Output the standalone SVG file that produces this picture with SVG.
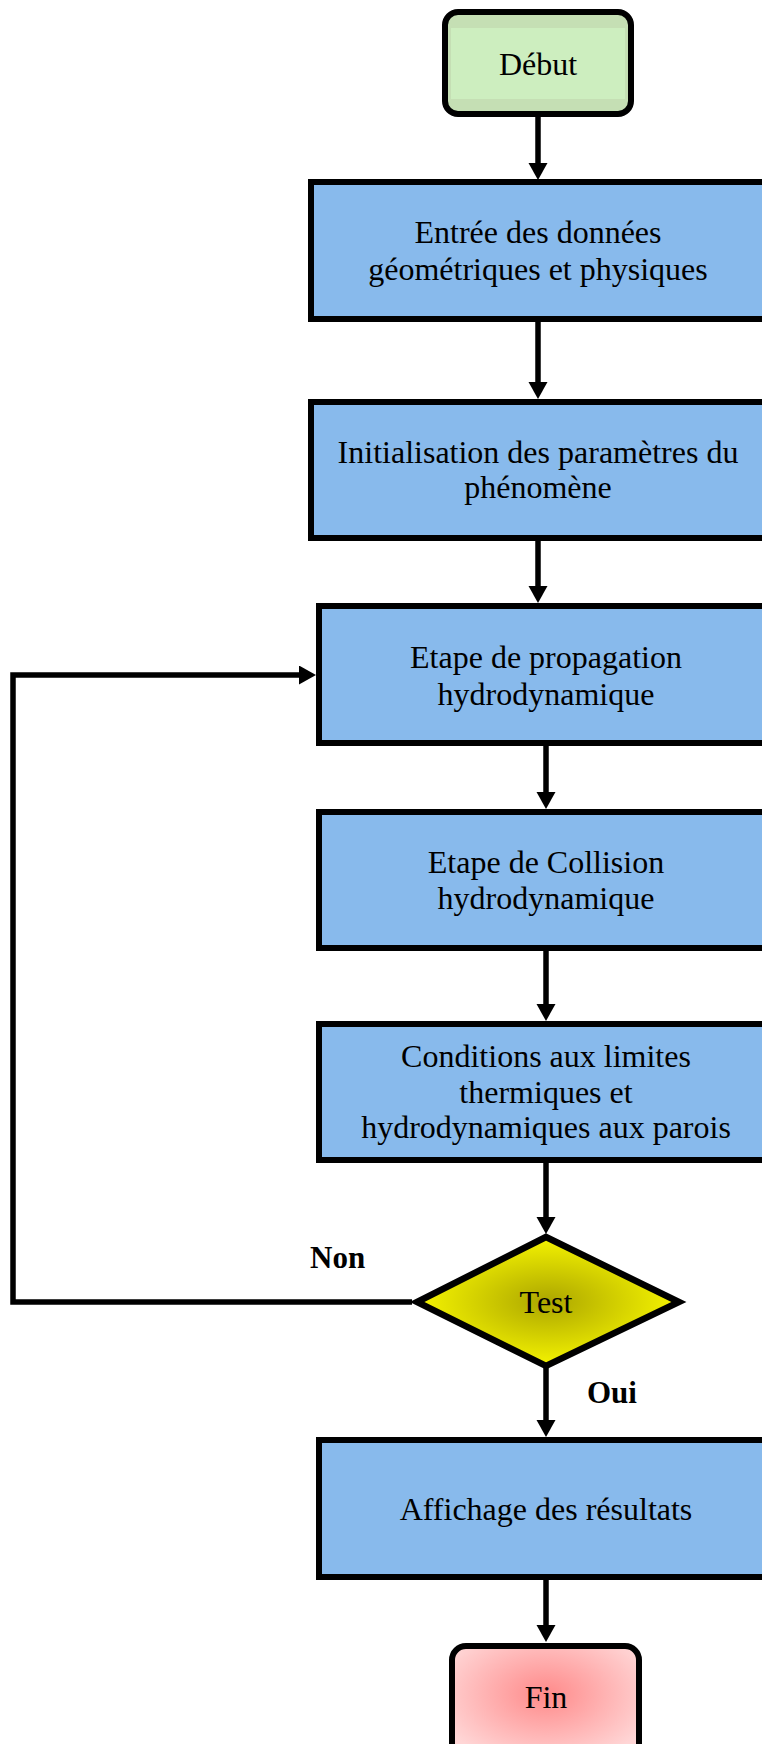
<svg xmlns="http://www.w3.org/2000/svg" width="762" height="1744" viewBox="0 0 762 1744">
<style>
.box{fill:#88BAEC;stroke:#000;stroke-width:6}
.t{font-family:"Liberation Serif","Times New Roman",serif;font-size:32px;fill:#000;text-anchor:middle}
.lbl{font-family:"Liberation Serif","Times New Roman",serif;font-size:31px;font-weight:bold;fill:#000}
.conn{fill:none;stroke:#000;stroke-width:5.5}
</style>
<defs>
<marker id="ah" markerUnits="userSpaceOnUse" markerWidth="19" markerHeight="20" refX="1" refY="9.5" orient="auto">
<path d="M0,0 L17,9.5 L0,19 Z" fill="#000"/>
</marker>
<radialGradient id="gy" cx="50%" cy="50%" r="50%">
<stop offset="0" stop-color="#ACA600"/>
<stop offset="1" stop-color="#F5F400"/>
</radialGradient>
<radialGradient id="gr" cx="50%" cy="40%" r="60%">
<stop offset="0" stop-color="#FF8A8A"/>
<stop offset="1" stop-color="#FFD6D6"/>
</radialGradient>
</defs>
<rect width="762" height="1744" fill="#fff"/>
<g id="connectors">
<path class="conn" d="M538,117 V164" marker-end="url(#ah)"/>
<path class="conn" d="M538,322 V383" marker-end="url(#ah)"/>
<path class="conn" d="M538,541 V587" marker-end="url(#ah)"/>
<path class="conn" d="M546,746 V793" marker-end="url(#ah)"/>
<path class="conn" d="M546,951 V1005" marker-end="url(#ah)"/>
<path class="conn" d="M546,1163 V1218" marker-end="url(#ah)"/>
<path class="conn" d="M546,1367 V1421" marker-end="url(#ah)"/>
<path class="conn" d="M546,1580 V1626" marker-end="url(#ah)"/>
<path class="conn" d="M412,1302 H13 V675 H300" marker-end="url(#ah)"/>
<text class="lbl" x="310" y="1268">Non</text>
<text class="lbl" x="587" y="1403">Oui</text>
</g>
<g id="debut">
<rect x="445" y="12" width="186" height="102" rx="13" fill="#C5DFB4" stroke="#000" stroke-width="6"/>
<rect x="451" y="28" width="174" height="71" fill="#CDEEBF"/>
<text class="t" x="538" y="75">Début</text>
</g>
<g id="entree">
<rect class="box" x="311" y="182" width="460" height="137"/>
<text class="t" x="538" y="243">Entrée des données</text>
<text class="t" x="538" y="280">géométriques et physiques</text>
</g>
<g id="init">
<rect class="box" x="311" y="402" width="460" height="136"/>
<text class="t" x="538" y="463">Initialisation des paramètres du</text>
<text class="t" x="538" y="498">phénomène</text>
</g>
<g id="propagation">
<rect class="box" x="319" y="606" width="460" height="137"/>
<text class="t" x="546" y="668">Etape de propagation</text>
<text class="t" x="546" y="705">hydrodynamique</text>
</g>
<g id="collision">
<rect class="box" x="319" y="812" width="460" height="136"/>
<text class="t" x="546" y="873">Etape de Collision</text>
<text class="t" x="546" y="909">hydrodynamique</text>
</g>
<g id="conditions">
<rect class="box" x="319" y="1024" width="460" height="136"/>
<text class="t" x="546" y="1067">Conditions aux limites</text>
<text class="t" x="546" y="1103">thermiques et</text>
<text class="t" x="546" y="1138">hydrodynamiques aux parois</text>
</g>
<g id="test">
<polygon points="546,1237 679,1302 546,1366 417,1302" fill="url(#gy)" stroke="#000" stroke-width="6.5" stroke-linejoin="miter"/>
<text class="t" x="546" y="1313">Test</text>
</g>
<g id="affichage">
<rect class="box" x="319" y="1440" width="460" height="137"/>
<text class="t" x="546" y="1520">Affichage des résultats</text>
</g>
<g id="fin">
<rect x="452" y="1646" width="187" height="120" rx="14" fill="url(#gr)" stroke="#000" stroke-width="6"/>
<text class="t" x="546" y="1708">Fin</text>
</g>
</svg>
